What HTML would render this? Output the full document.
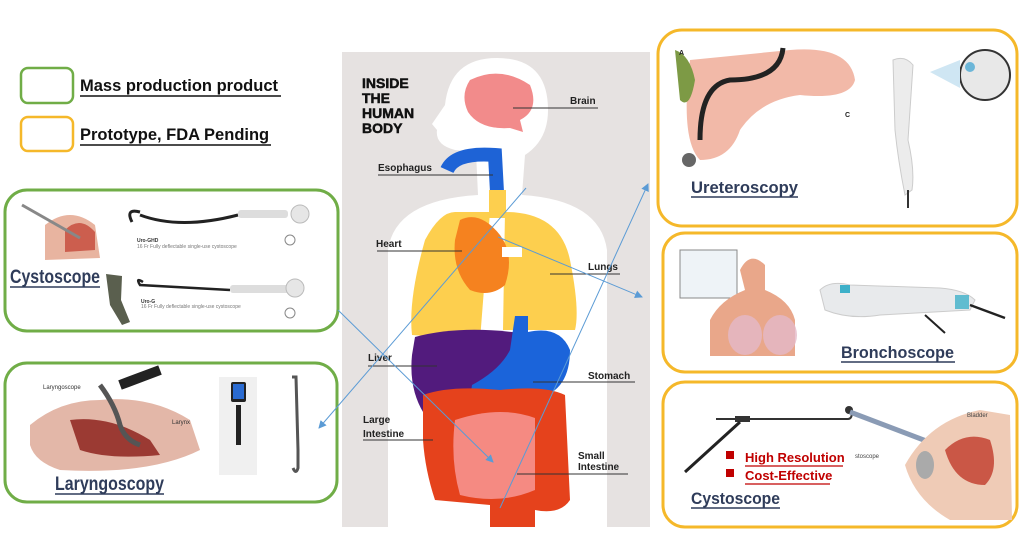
<!DOCTYPE html>
<html><head><meta charset="utf-8"><style>
body{margin:0;background:#fff;width:1024px;height:534px;overflow:hidden}
svg{display:block}
text{font-family:"Liberation Sans","DejaVu Sans",sans-serif}
</style></head><body>
<svg width="1024" height="534" viewBox="0 0 1024 534" xmlns="http://www.w3.org/2000/svg">
<defs>
<marker id="ah" markerWidth="8" markerHeight="8" refX="7" refY="4" orient="auto" markerUnits="userSpaceOnUse"><path d="M0,0 L8,4 L0,8 Z" fill="#5b9bd5"/></marker>
</defs>
<!-- legend -->
<rect x="21" y="68" width="52" height="35" rx="7" fill="none" stroke="#70ad47" stroke-width="2.5"/>
<text x="80" y="91" font-size="16.5" font-weight="bold" fill="#111">Mass production product</text>
<line x1="80" y1="96" x2="281" y2="96" stroke="#111" stroke-width="1.5"/>
<rect x="21" y="117" width="52" height="34" rx="7" fill="none" stroke="#f5b82a" stroke-width="2.5"/>
<text x="80" y="140" font-size="16.5" font-weight="bold" fill="#111">Prototype, FDA Pending</text>
<line x1="80" y1="145" x2="271" y2="145" stroke="#111" stroke-width="1.5"/>

<!-- left boxes -->
<rect x="5" y="190" width="333" height="141" rx="22" fill="#fff" stroke="#70ad47" stroke-width="3"/>
<path d="M45,225 Q70,205 95,225 L100,258 L45,260 Z" fill="#e8b4a0"/>
<path d="M65,230 Q80,215 95,232 L95,250 L65,252 Z" fill="#c0392b" opacity="0.7"/>
<line x1="22" y1="205" x2="80" y2="238" stroke="#888" stroke-width="3"/>
<path d="M132,222 Q125,208 140,212 M140,215 Q180,230 238,215" fill="none" stroke="#222" stroke-width="3"/>
<rect x="238" y="210" width="50" height="8" rx="3" fill="#ddd"/>
<circle cx="300" cy="214" r="9" fill="#e6e6e6" stroke="#bbb"/>
<circle cx="290" cy="240" r="5" fill="none" stroke="#888"/>
<text x="137" y="242" font-size="5" font-weight="bold" fill="#333">Uro-GHD</text>
<text x="137" y="248" font-size="5" fill="#777">16 Fr Fully deflectable single-use cystoscope</text>
<path d="M143,282 Q135,277 140,285 L230,290" fill="none" stroke="#222" stroke-width="2.5"/>
<rect x="230" y="285" width="60" height="8" rx="3" fill="#ddd"/>
<circle cx="295" cy="288" r="9" fill="#e6e6e6" stroke="#bbb"/>
<circle cx="290" cy="313" r="5" fill="none" stroke="#888"/>
<text x="141" y="303" font-size="5" font-weight="bold" fill="#333">Uro-G</text>
<text x="141" y="308" font-size="5" fill="#777">16 Fr Fully deflectable single-use cystoscope</text>
<path d="M106,274 L122,276 L121,300 L130,322 L122,325 L110,305 Z" fill="#5a5f4e"/>
<text x="10" y="283" font-size="19" font-weight="bold" fill="#2f3c5a" textLength="90" lengthAdjust="spacingAndGlyphs">Cystoscope</text>
<line x1="10" y1="287" x2="100" y2="287" stroke="#2f3c5a" stroke-width="1.5"/>

<rect x="5" y="363" width="332" height="139" rx="22" fill="#fff" stroke="#70ad47" stroke-width="3"/>
<path d="M30,425 Q60,400 100,400 Q150,395 190,420 L200,450 Q150,475 60,470 Q35,462 30,445 Z" fill="#e3b7a8"/>
<path d="M70,420 Q110,415 150,440 L160,455 Q110,460 80,450 Z" fill="#9b3a33"/>
<path d="M100,385 Q115,405 120,425 Q125,440 140,445" fill="none" stroke="#555" stroke-width="5"/>
<path d="M120,385 L160,370" stroke="#222" stroke-width="10"/>
<text x="43" y="389" font-size="6" fill="#333">Laryngoscope</text>
<text x="172" y="424" font-size="6" fill="#333">Larynx</text>
<rect x="219" y="377" width="38" height="98" fill="#f0f0f0"/>
<rect x="231" y="382" width="15" height="20" rx="2" fill="#222"/><rect x="233" y="384" width="11" height="15" fill="#2a6bd1"/>
<rect x="236" y="405" width="5" height="40" fill="#222"/>
<path d="M292,377 L296,377 L298,450 L298,468 Q296,475 293,468" fill="none" stroke="#555" stroke-width="3"/>
<text x="55" y="490" font-size="19" font-weight="bold" fill="#2f3c5a" textLength="109" lengthAdjust="spacingAndGlyphs">Laryngoscopy</text>
<line x1="55" y1="494" x2="164" y2="494" stroke="#2f3c5a" stroke-width="1.5"/>

<!-- body panel -->
<rect x="342" y="52" width="308" height="475" fill="#e6e2e1"/>
<path d="M497,58 Q548,58 548,110 Q548,140 525,155 L522,195 Q600,200 607,250 L607,527 L388,527 L388,250 Q395,200 478,195 L476,152 L455,150 Q435,145 437,130 L432,124 L445,105 Q450,58 497,58 Z" fill="#fff"/>
<path d="M470,80 Q500,65 530,85 Q540,110 520,120 L523,132 L510,128 Q480,130 468,112 Q460,95 470,80 Z" fill="#f28b8b"/>
<path d="M447,170 Q455,152 495,155 L497,192" fill="none" stroke="#1e63d6" stroke-width="14"/>
<rect x="489" y="190" width="17" height="28" fill="#fdcf4e"/>
<path d="M455,212 Q440,212 425,240 Q408,300 412,335 L480,340 L490,212 Z" fill="#fdcf4e"/>
<path d="M505,212 Q560,212 570,260 Q580,310 575,330 L503,330 Z" fill="#fdcf4e"/>
<path d="M460,220 Q480,210 500,235 Q515,255 505,285 Q490,298 470,290 Q452,270 455,240 Z" fill="#f5821f"/>
<rect x="502" y="247" width="20" height="10" fill="#fff"/>
<path d="M415,337 Q460,325 520,333 L515,410 Q470,425 430,422 Q408,395 412,355 Z" fill="#521b7d"/>
<path d="M515,316 L528,316 L528,332 Q560,325 570,350 Q570,395 530,400 Q500,395 480,402 L470,400 L472,385 Q500,370 510,350 Z" fill="#1b64da"/>
<path d="M423,395 Q450,385 500,390 Q545,385 565,395 L570,500 Q560,515 535,510 L535,527 L490,527 L490,505 L435,500 Q425,470 423,440 Z" fill="#e5421c"/>
<path d="M455,420 Q500,405 535,418 L535,490 Q500,505 460,495 Q450,460 455,420 Z" fill="#f58a82"/>
<g font-size="14" font-weight="900" fill="#111" stroke="#111" stroke-width="0.5">
<text x="362" y="88">INSIDE</text>
<text x="362" y="103">THE</text>
<text x="362" y="118">HUMAN</text>
<text x="362" y="133">BODY</text>
</g>
<g font-size="10" font-weight="bold" fill="#222">
<text x="570" y="104">Brain</text><line x1="513" y1="108" x2="598" y2="108" stroke="#333"/>
<text x="378" y="171">Esophagus</text><line x1="378" y1="175" x2="493" y2="175" stroke="#333"/>
<text x="376" y="247">Heart</text><line x1="377" y1="251" x2="462" y2="251" stroke="#333"/>
<text x="588" y="270">Lungs</text><line x1="550" y1="274" x2="620" y2="274" stroke="#333"/>
<text x="368" y="361">Liver</text><line x1="368" y1="366" x2="437" y2="366" stroke="#333"/>
<text x="588" y="379">Stomach</text><line x1="533" y1="382" x2="635" y2="382" stroke="#333"/>
<text x="363" y="423">Large</text><text x="363" y="437">Intestine</text><line x1="363" y1="440" x2="433" y2="440" stroke="#333"/>
<text x="578" y="459">Small</text><text x="578" y="470">Intestine</text><line x1="517" y1="474" x2="628" y2="474" stroke="#333"/>
</g>
<g stroke="#5b9bd5" stroke-width="1" fill="none">
<line x1="526" y1="188" x2="319" y2="428" marker-end="url(#ah)"/>
<line x1="498" y1="237" x2="642" y2="297" marker-end="url(#ah)"/>
<line x1="500" y1="508" x2="648" y2="184" marker-end="url(#ah)"/>
<line x1="338" y1="310" x2="493" y2="462" marker-end="url(#ah)"/>
</g>

<!-- right boxes -->
<rect x="658" y="30" width="359" height="196" rx="24" fill="#fff" stroke="#f5b82a" stroke-width="3"/>
<path d="M690,60 Q740,55 790,50 Q850,45 855,80 Q850,100 800,95 Q760,100 740,130 Q730,160 700,160 Q680,140 690,60 Z" fill="#f2b9a8"/>
<path d="M675,50 Q690,55 695,80 Q690,110 680,100 Z" fill="#7d9a45"/>
<path d="M783,48 Q780,80 730,80 Q700,85 700,140" fill="none" stroke="#222" stroke-width="5"/>
<text x="679" y="55" font-size="7" font-weight="bold" fill="#222">A</text>
<circle cx="689" cy="160" r="7" fill="#666"/>
<text x="845" y="117" font-size="7" font-weight="bold" fill="#222">C</text>
<path d="M893,60 Q905,55 913,65 L908,140 Q915,170 912,190 L905,195 Q898,160 895,130 Z" fill="#ececec" stroke="#ccc"/>
<path d="M908,190 L908,208" stroke="#333" stroke-width="2"/>
<circle cx="985" cy="75" r="25" fill="#e8e8e8" stroke="#333" stroke-width="2"/>
<circle cx="970" cy="67" r="5" fill="#6cb6d8"/>
<path d="M930,72 L960,60 L960,88 Z" fill="#cfe6f3"/>
<text x="691" y="193" font-size="17" font-weight="bold" fill="#2f3c5a" textLength="107" lengthAdjust="spacingAndGlyphs">Ureteroscopy</text>
<line x1="691" y1="197" x2="798" y2="197" stroke="#2f3c5a" stroke-width="1.5"/>

<rect x="663" y="233" width="354" height="139" rx="22" fill="#fff" stroke="#f5b82a" stroke-width="3"/>
<rect x="680" y="250" width="57" height="48" fill="#eef3f7" stroke="#888"/>
<path d="M740,270 Q750,250 765,265 L765,290 Q790,300 795,320 L795,356 L710,356 L710,320 Q720,300 745,290 Z" fill="#e9a78a"/>
<ellipse cx="745" cy="335" rx="17" ry="20" fill="#e4b9c8" opacity="0.8"/>
<ellipse cx="780" cy="335" rx="17" ry="20" fill="#e4b9c8" opacity="0.8"/>
<path d="M820,290 Q830,280 850,285 L940,288 Q965,290 975,300 L970,310 L880,315 Q850,320 825,310 Z" fill="#e8eaec" stroke="#ccc"/>
<rect x="840" y="285" width="10" height="8" fill="#3db0c9"/>
<rect x="955" y="295" width="14" height="14" fill="#3db0c9" opacity="0.8"/>
<line x1="970" y1="305" x2="1005" y2="318" stroke="#222" stroke-width="2.5"/>
<line x1="925" y1="315" x2="945" y2="333" stroke="#222" stroke-width="2"/>
<text x="841" y="358" font-size="17" font-weight="bold" fill="#2f3c5a" textLength="113" lengthAdjust="spacingAndGlyphs">Bronchoscope</text>
<line x1="841" y1="362" x2="955" y2="362" stroke="#2f3c5a" stroke-width="1.5"/>

<rect x="663" y="382" width="354" height="145" rx="22" fill="#fff" stroke="#f5b82a" stroke-width="3"/>
<path d="M716,419 L848,419 Q852,419 852,412" fill="none" stroke="#333" stroke-width="2"/>
<rect x="735" y="416" width="15" height="6" fill="#333"/>
<line x1="740" y1="422" x2="685" y2="472" stroke="#222" stroke-width="3"/>
<circle cx="849" cy="410" r="4" fill="#333"/>
<line x1="850" y1="412" x2="950" y2="450" stroke="#8a9bb5" stroke-width="5"/>
<path d="M905,465 Q930,420 980,410 L1010,415 L1012,520 L950,520 Q915,500 905,465 Z" fill="#efcbb6"/>
<path d="M945,450 Q965,430 990,440 Q1000,470 985,485 Q955,485 945,450 Z" fill="#c0392b" opacity="0.8"/>
<ellipse cx="925" cy="465" rx="9" ry="14" fill="#aaa"/>
<text x="967" y="417" font-size="6" fill="#444">Bladder</text>
<text x="855" y="458" font-size="6" fill="#444">stoscope</text>
<rect x="726" y="451" width="8" height="8" fill="#c00000"/>
<rect x="726" y="469" width="8" height="8" fill="#c00000"/>
<text x="745" y="462" font-size="13" font-weight="bold" fill="#c00000">High Resolution</text>
<line x1="745" y1="466" x2="843" y2="466" stroke="#c00000" stroke-width="1.3"/>
<text x="745" y="480" font-size="13" font-weight="bold" fill="#c00000">Cost-Effective</text>
<line x1="745" y1="484" x2="830" y2="484" stroke="#c00000" stroke-width="1.3"/>
<text x="691" y="504" font-size="17" font-weight="bold" fill="#2f3c5a" textLength="89" lengthAdjust="spacingAndGlyphs">Cystoscope</text>
<line x1="691" y1="508" x2="780" y2="508" stroke="#2f3c5a" stroke-width="1.5"/>
</svg>
</body></html>
